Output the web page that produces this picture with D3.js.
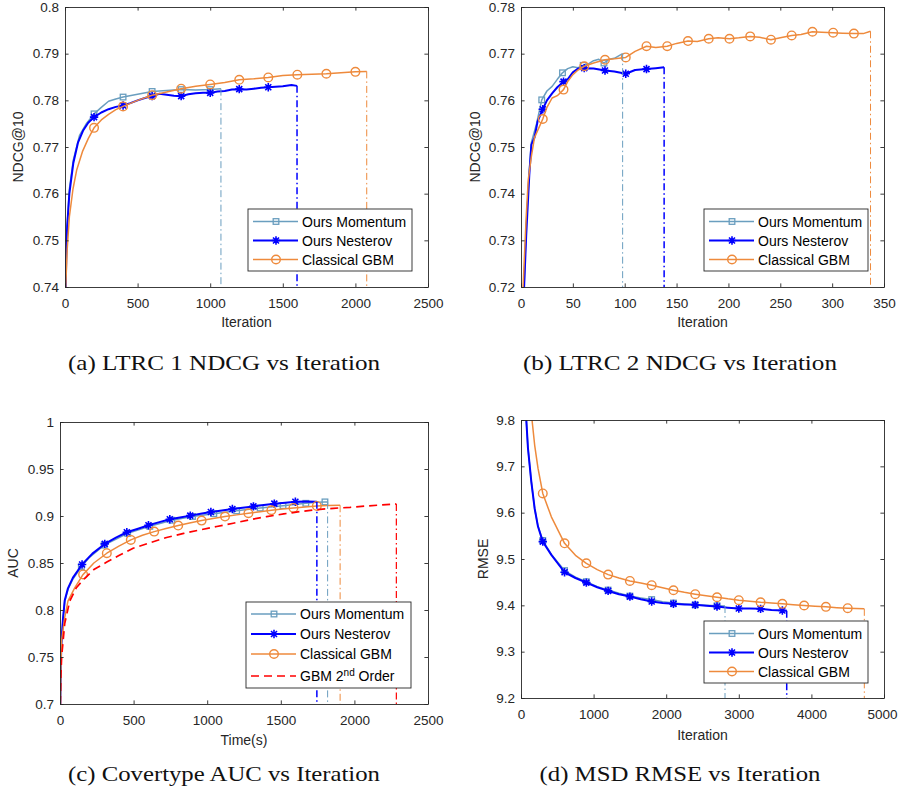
<!DOCTYPE html>
<html>
<head>
<meta charset="utf-8">
<script src="https://cdn.jsdelivr.net/npm/d3@7"></script>
<style>
  body { margin: 0; background: #fff; }
  svg { display: block; }
</style>
</head>
<body>
<div id="chart"></div>
<script>
// ── (a) LTRC 1 : NDCG@10 vs iteration ─────────────────────────────────────
const aMomentum = [[5,0.740],[10,0.748],[15,0.753],[30,0.761],[57,0.7672],[100,0.7725],[149,0.7751],[200,0.7771],[250,0.7785],[300,0.7798],[350,0.7803],[400,0.7807],[500,0.7813],[600,0.7819],[700,0.7821],[800,0.7823],[900,0.7822],[1000,0.7823],[1074,0.7825]];
const aNesterov = [[5,0.740],[10,0.749],[15,0.753],[30,0.760],[57,0.7665],[90,0.771],[126,0.7736],[160,0.7752],[200,0.7764],[250,0.7774],[300,0.7781],[350,0.7786],[400,0.7789],[450,0.7794],[500,0.7800],[550,0.7805],[600,0.7809],[650,0.7814],[700,0.7812],[750,0.7810],[800,0.7809],[850,0.7813],[900,0.7815],[950,0.7816],[1000,0.7816],[1050,0.7819],[1100,0.7820],[1150,0.7823],[1200,0.7824],[1250,0.7823],[1300,0.7825],[1350,0.7827],[1400,0.7828],[1450,0.7829],[1500,0.7830],[1560,0.7833],[1598,0.7831]];
const aClassical = [[5,0.740],[15,0.748],[30,0.755],[55,0.761],[80,0.765],[120,0.769],[160,0.7718],[200,0.7741],[250,0.7758],[300,0.7770],[350,0.7780],[400,0.7787],[500,0.7800],[600,0.7811],[700,0.7818],[800,0.7825],[900,0.7830],[1000,0.7834],[1100,0.7838],[1200,0.7844],[1300,0.7846],[1400,0.7849],[1500,0.7853],[1600,0.7855],[1700,0.7856],[1800,0.7857],[1900,0.7859],[2000,0.7861],[2078,0.7862]];
const aMomentumMarks = [200, 400, 600, 800, 1000];
const aNesterovMarks = [200, 400, 600, 800, 1000, 1200, 1400];
const aClassicalMarks = [200, 400, 600, 800, 1000, 1200, 1400, 1600, 1800, 2000];
const aXTicks = [0, 500, 1000, 1500, 2000, 2500];
const aYTicks = [0.74, 0.75, 0.76, 0.77, 0.78, 0.79, 0.8];

// ── (b) LTRC 2 : NDCG@10 vs iteration ─────────────────────────────────────
const bMomentum = [[3,0.72],[5,0.733],[8,0.745],[10,0.751],[15,0.755],[20,0.7601],[25,0.762],[30,0.763],[35,0.7645],[40,0.7659],[45,0.7668],[50,0.7672],[55,0.7670],[60,0.7675],[65,0.7678],[70,0.7685],[75,0.7688],[80,0.7680],[85,0.7688],[90,0.7690],[98,0.7700]];
const bNesterov = [[3,0.72],[5,0.731],[8,0.744],[10,0.7505],[13,0.752],[16,0.7555],[21,0.7581],[25,0.760],[30,0.7615],[35,0.7628],[41,0.7640],[45,0.7645],[50,0.7660],[55,0.7668],[61,0.7669],[70,0.7668],[81,0.7664],[90,0.7662],[101,0.7657],[110,0.7665],[121,0.7667],[130,0.7669],[138,0.7671]];
const bClassical = [[2,0.72],[5,0.735],[7,0.743],[10,0.748],[13,0.752],[16,0.7535],[21,0.756],[25,0.7585],[30,0.7605],[35,0.761],[41,0.7623],[45,0.764],[50,0.7655],[55,0.7665],[61,0.7673],[70,0.768],[81,0.7687],[90,0.7689],[101,0.7692],[110,0.7705],[121,0.7716],[130,0.7713],[141,0.7716],[150,0.7722],[161,0.7727],[170,0.7726],[181,0.7732],[190,0.7734],[201,0.7732],[210,0.7734],[221,0.7737],[230,0.7735],[241,0.7730],[250,0.7734],[261,0.7739],[270,0.7741],[281,0.7747],[290,0.7746],[301,0.7745],[310,0.7744],[321,0.7743],[330,0.7743],[337,0.7748]];
const bMomentumMarks = [20, 40, 60, 80];
const bNesterovMarks = [21, 41, 61, 81, 101, 121];
const bClassicalMarks = [21, 41, 61, 81, 101, 121, 141, 161, 181, 201, 221, 241, 261, 281, 301, 321];
const bXTicks = [0, 50, 100, 150, 200, 250, 300, 350];
const bYTicks = [0.72, 0.73, 0.74, 0.75, 0.76, 0.77, 0.78];

// ── (c) Covertype : AUC vs time ───────────────────────────────────────────
const cMomentum = [[2,0.70],[5,0.74],[10,0.765],[20,0.79],[32,0.809],[54,0.822],[88,0.833],[145,0.846],[200,0.856],[300,0.869],[460,0.8815],[610,0.889],[760,0.8955],[900,0.8995],[1045,0.9025],[1200,0.9055],[1360,0.9085],[1515,0.911],[1670,0.9135],[1745,0.9145],[1800,0.9150],[1818,0.9150]];
const cNesterov = [[2,0.70],[5,0.74],[10,0.765],[20,0.79],[32,0.81],[54,0.823],[88,0.8345],[150,0.8484],[220,0.860],[304,0.8703],[380,0.877],[454,0.8827],[530,0.8865],[601,0.8902],[675,0.8935],[746,0.8965],[815,0.8985],[885,0.9004],[955,0.9024],[1025,0.9042],[1100,0.9058],[1171,0.9074],[1240,0.9088],[1314,0.9102],[1385,0.9117],[1456,0.9131],[1530,0.9142],[1599,0.9152],[1670,0.9155],[1745,0.9152]];
const cClassical = [[3,0.70],[6,0.74],[11,0.768],[32,0.792],[54,0.8095],[100,0.8236],[157,0.8378],[230,0.850],[318,0.8604],[400,0.868],[481,0.8746],[560,0.8795],[640,0.8834],[720,0.8868],[803,0.8898],[880,0.8925],[962,0.8951],[1040,0.8974],[1121,0.8994],[1200,0.9012],[1280,0.9029],[1360,0.9046],[1436,0.9061],[1510,0.9074],[1586,0.9086],[1665,0.9097],[1745,0.9107],[1820,0.9111],[1903,0.9114]];
const cSecondOrder = [[2,0.70],[6,0.73],[11,0.750],[32,0.7855],[66,0.8095],[111,0.8237],[157,0.832],[230,0.843],[318,0.851],[400,0.858],[497,0.8657],[600,0.871],[724,0.8771],[840,0.8815],[951,0.8852],[1065,0.8888],[1177,0.8923],[1290,0.896],[1404,0.8994],[1520,0.9022],[1631,0.9047],[1745,0.9068],[1858,0.9082],[1970,0.9092],[2085,0.9107],[2190,0.9118],[2285,0.9128]];
const cMomentumMarks = [145, 300, 460, 610, 760, 900, 1045, 1200, 1360, 1515, 1670, 1800];
const cNesterovMarks = [150, 304, 454, 601, 746, 885, 1025, 1171, 1314, 1456, 1599];
const cClassicalMarks = [157, 318, 481, 640, 803, 962, 1121, 1280, 1436, 1586, 1745];
const cXTicks = [0, 500, 1000, 1500, 2000, 2500];
const cYTicks = [0.7, 0.75, 0.8, 0.85, 0.9, 0.95, 1];

// ── (d) MSD : RMSE vs iteration ───────────────────────────────────────────
const dMomentum = [[73,9.80],[96,9.739],[142,9.667],[188,9.609],[234,9.571],[300,9.540],[418,9.510],[600,9.475],[750,9.461],[900,9.451],[1050,9.440],[1200,9.433],[1350,9.426],[1500,9.420],[1650,9.416],[1800,9.4125],[1950,9.408],[2100,9.405],[2250,9.403],[2400,9.401],[2550,9.400],[2700,9.399],[2810,9.3985]];
const dNesterov = [[73,9.80],[96,9.739],[142,9.667],[188,9.609],[234,9.570],[300,9.5374],[418,9.509],[600,9.4714],[750,9.459],[900,9.449],[1050,9.439],[1200,9.4311],[1350,9.424],[1500,9.4189],[1650,9.413],[1800,9.4082],[1950,9.405],[2100,9.4032],[2250,9.402],[2400,9.401],[2550,9.399],[2700,9.3974],[2850,9.395],[3000,9.3931],[3150,9.393],[3300,9.3924],[3450,9.390],[3600,9.3888],[3660,9.3881]];
const dClassical = [[152,9.80],[188,9.746],[234,9.696],[300,9.6415],[418,9.591],[600,9.5338],[750,9.508],[900,9.4907],[1050,9.477],[1200,9.4663],[1350,9.459],[1500,9.4527],[1650,9.448],[1800,9.4434],[1950,9.438],[2100,9.4326],[2250,9.428],[2400,9.4240],[2550,9.4205],[2700,9.4175],[2850,9.414],[3000,9.4111],[3150,9.409],[3300,9.4067],[3450,9.405],[3600,9.4032],[3750,9.4015],[3900,9.3996],[4050,9.398],[4200,9.3967],[4350,9.395],[4500,9.3938],[4729,9.3924]];
const dMomentumMarks = [300, 600, 900, 1200, 1500, 1800, 2100, 2400, 2700];
const dNesterovMarks = [300, 600, 900, 1200, 1500, 1800, 2100, 2400, 2700, 3000, 3300, 3600];
const dClassicalMarks = [300, 600, 900, 1200, 1500, 1800, 2100, 2400, 2700, 3000, 3300, 3600, 3900, 4200, 4500];
const dXTicks = [0, 1000, 2000, 3000, 4000, 5000];
const dYTicks = [9.2, 9.3, 9.4, 9.5, 9.6, 9.7, 9.8];

// ── Estilos ───────────────────────────────────────────────────────────────
const width = 898;
const height = 791;
const AXIS = "#262626";
const SANS = "'Liberation Sans', Arial, Helvetica, sans-serif";
const SERIF = "'Liberation Serif', 'Times New Roman', serif";

const STYLE = {
  momentum:  { color: "#6a9ebf", width: 1.5, marker: "square", label: "Ours Momentum", vWidth: 1 },
  nesterov:  { color: "#0000ff", width: 2,   marker: "star",   label: "Ours Nesterov", vWidth: 1.5 },
  classical: { color: "#ee8a3c", width: 1.5, marker: "circle", label: "Classical GBM", vWidth: 1 },
  second:    { color: "#ff0000", width: 1.7, marker: null,     label: "GBM 2nd Order", vWidth: 1.2, dash: "8,5" }
};

const panels = [
  {
    box: { x0: 65, x1: 428, y0: 7, y1: 287 },
    xDomain: [0, 2500], yDomain: [0.74, 0.8], xTicks: aXTicks, yTicks: aYTicks,
    xLabel: "Iteration", xLabelY: 327, yLabel: "NDCG@10", yLabelX: 23,
    caption: "(a) LTRC 1 NDCG vs Iteration", capX: 224, capY: 370, capW: 312,
    legend: { x: 248, y: 209, w: 164, rows: [12.5, 31.5, 50.5], h: 62 },
    series: [
      { key: "momentum", data: aMomentum, marks: aMomentumMarks },
      { key: "nesterov", data: aNesterov, marks: aNesterovMarks },
      { key: "classical", data: aClassical, marks: aClassicalMarks }
    ]
  },
  {
    box: { x0: 521, x1: 884, y0: 7, y1: 287 },
    xDomain: [0, 350], yDomain: [0.72, 0.78], xTicks: bXTicks, yTicks: bYTicks,
    xLabel: "Iteration", xLabelY: 327, yLabel: "NDCG@10", yLabelX: 480,
    caption: "(b) LTRC 2 NDCG vs Iteration", capX: 680, capY: 370, capW: 314,
    legend: { x: 704, y: 209, w: 164, rows: [12.5, 31.5, 50.5], h: 62 },
    series: [
      { key: "momentum", data: bMomentum, marks: bMomentumMarks },
      { key: "nesterov", data: bNesterov, marks: bNesterovMarks },
      { key: "classical", data: bClassical, marks: bClassicalMarks }
    ]
  },
  {
    box: { x0: 60, x1: 428, y0: 422, y1: 704 },
    xDomain: [0, 2500], yDomain: [0.7, 1], xTicks: cXTicks, yTicks: cYTicks,
    xLabel: "Time(s)", xLabelY: 745, yLabel: "AUC", yLabelX: 18,
    caption: "(c) Covertype AUC vs Iteration", capX: 224, capY: 781, capW: 312,
    legend: { x: 246, y: 602, w: 165, rows: [12, 32, 52, 74], h: 86 },
    series: [
      { key: "momentum", data: cMomentum, marks: cMomentumMarks },
      { key: "nesterov", data: cNesterov, marks: cNesterovMarks },
      { key: "classical", data: cClassical, marks: cClassicalMarks },
      { key: "second", data: cSecondOrder, marks: [] }
    ]
  },
  {
    box: { x0: 521, x1: 884, y0: 420, y1: 698 },
    xDomain: [0, 5000], yDomain: [9.2, 9.8], xTicks: dXTicks, yTicks: dYTicks,
    xLabel: "Iteration", xLabelY: 740, yLabel: "RMSE", yLabelX: 488,
    caption: "(d) MSD RMSE vs Iteration", capX: 680, capY: 781, capW: 281,
    legend: { x: 704, y: 621, w: 164, rows: [12.5, 31.5, 50.5], h: 62 },
    series: [
      { key: "momentum", data: dMomentum, marks: dMomentumMarks },
      { key: "nesterov", data: dNesterov, marks: dNesterovMarks },
      { key: "classical", data: dClassical, marks: dClassicalMarks }
    ]
  }
];

const svg = d3.select("#chart")
  .append("svg")
  .attr("width", width)
  .attr("height", height)
  .attr("viewBox", [0, 0, width, height])
  .style("background", "#fff");

const fmt = d3.format(".2~f");

// ── Marcadores estilo MATLAB ──────────────────────────────────────────────
function drawMarker(g, type, color, cx, cy) {
  if (type === "square") {
    g.append("rect")
      .attr("x", cx - 2.8).attr("y", cy - 2.8)
      .attr("width", 5.6).attr("height", 5.6)
      .attr("fill", "none").attr("stroke", color).attr("stroke-width", 1.3);
  } else if (type === "star") {
    const r = 4.2, d = 3;
    g.append("path")
      .attr("d", `M${cx - r},${cy}H${cx + r}M${cx},${cy - r}V${cy + r}` +
                 `M${cx - d},${cy - d}L${cx + d},${cy + d}M${cx - d},${cy + d}L${cx + d},${cy - d}`)
      .attr("stroke", color).attr("stroke-width", 1.6).attr("fill", "none");
  } else if (type === "circle") {
    g.append("circle")
      .attr("cx", cx).attr("cy", cy).attr("r", 4.3)
      .attr("fill", "none").attr("stroke", color).attr("stroke-width", 1.4);
  }
}

panels.forEach((p, i) => {
  const { box } = p;
  const x = d3.scaleLinear().domain(p.xDomain).range([box.x0, box.x1]);
  const y = d3.scaleLinear().domain(p.yDomain).range([box.y1, box.y0]);
  const g = svg.append("g").attr("class", `panel-${i}`);

  const clipId = `clip-${i}`;
  g.append("clipPath").attr("id", clipId)
    .append("rect")
    .attr("x", box.x0).attr("y", box.y0)
    .attr("width", box.x1 - box.x0).attr("height", box.y1 - box.y0);

  const plot = g.append("g").attr("clip-path", `url(#${clipId})`);
  const line = d3.line().x(d => x(d[0])).y(d => y(d[1]));

  // ── Curvas ──────────────────────────────────────────────────────────────
  p.series.forEach(s => {
    const st = STYLE[s.key];
    plot.append("path")
      .datum(s.data)
      .attr("d", line)
      .attr("fill", "none")
      .attr("stroke", st.color)
      .attr("stroke-width", st.width)
      .attr("stroke-dasharray", st.dash || null)
      .attr("stroke-linejoin", "round");

    const mg = plot.append("g");
    s.data.filter(d => s.marks.includes(d[0]))
      .forEach(d => drawMarker(mg, st.marker, st.color, x(d[0]), y(d[1])));
  });

  // ── Líneas verticales de parada (dash-dot) ──────────────────────────────
  p.series.forEach(s => {
    const st = STYLE[s.key];
    const last = s.data[s.data.length - 1];
    plot.append("line")
      .attr("x1", x(last[0])).attr("x2", x(last[0]))
      .attr("y1", y(last[1])).attr("y2", box.y1)
      .attr("stroke", st.color)
      .attr("stroke-width", st.vWidth)
      .attr("stroke-dasharray", "7,3,1.5,3");
  });

  // ── Ejes (ticks hacia adentro, caja completa) ───────────────────────────
  const tick = -3.6;
  const axes = [
    g.append("g").attr("transform", `translate(0,${box.y1})`)
      .call(d3.axisBottom(x).tickValues(p.xTicks).tickSizeInner(tick).tickSizeOuter(0).tickPadding(11).tickFormat(fmt)),
    g.append("g").attr("transform", `translate(0,${box.y0})`)
      .call(d3.axisTop(x).tickValues(p.xTicks).tickSizeInner(tick).tickSizeOuter(0).tickFormat("")),
    g.append("g").attr("transform", `translate(${box.x0},0)`)
      .call(d3.axisLeft(y).tickValues(p.yTicks).tickSizeInner(tick).tickSizeOuter(0).tickPadding(6).tickFormat(fmt)),
    g.append("g").attr("transform", `translate(${box.x1},0)`)
      .call(d3.axisRight(y).tickValues(p.yTicks).tickSizeInner(tick).tickSizeOuter(0).tickFormat(""))
  ];
  axes.forEach(a => {
    a.attr("font-family", SANS).attr("font-size", 13.5);
    a.select(".domain").attr("stroke", AXIS).attr("stroke-width", 0.9);
    a.selectAll(".tick line").attr("stroke", AXIS).attr("stroke-width", 0.9);
    a.selectAll(".tick text").attr("fill", AXIS);
  });

  // la última etiqueta del eje x no debe salirse del lienzo
  axes[0].selectAll(".tick text").each(function () {
    const bb = this.getBBox();
    const tx = x(d3.select(this.parentNode).datum());
    const overflow = tx + bb.x + bb.width - (width - 1);
    if (overflow > 0) d3.select(this).attr("dx", -overflow);
  });

  // ── Etiquetas de ejes ───────────────────────────────────────────────────
  g.append("text")
    .attr("x", (box.x0 + box.x1) / 2).attr("y", p.xLabelY)
    .attr("text-anchor", "middle")
    .attr("font-family", SANS).attr("font-size", 14).attr("fill", AXIS)
    .text(p.xLabel);

  g.append("text")
    .attr("transform", `translate(${p.yLabelX},${(box.y0 + box.y1) / 2}) rotate(-90)`)
    .attr("text-anchor", "middle")
    .attr("font-family", SANS).attr("font-size", 14).attr("fill", AXIS)
    .text(p.yLabel);

  // ── Leyenda ─────────────────────────────────────────────────────────────
  const lg = g.append("g").attr("transform", `translate(${p.legend.x},${p.legend.y})`);
  lg.append("rect")
    .attr("width", p.legend.w).attr("height", p.legend.h)
    .attr("fill", "#fff").attr("stroke", AXIS).attr("stroke-width", 0.9);

  p.series.forEach((s, j) => {
    const st = STYLE[s.key];
    const cy = p.legend.rows[j];
    lg.append("line")
      .attr("x1", 5).attr("x2", 50).attr("y1", cy).attr("y2", cy)
      .attr("stroke", st.color).attr("stroke-width", st.width)
      .attr("stroke-dasharray", st.dash || null);
    if (st.marker) drawMarker(lg, st.marker, st.color, 28, cy);

    const t = lg.append("text")
      .attr("x", 54).attr("y", cy).attr("dy", "0.36em")
      .attr("font-family", SANS).attr("font-size", 14).attr("fill", "#000");
    if (s.key === "second") {
      t.append("tspan").text("GBM 2");
      t.append("tspan").attr("font-size", 10).attr("baseline-shift", "super").text("nd");
      t.append("tspan").text(" Order");
    } else {
      t.text(st.label);
    }
  });

  // ── Leyenda de la subfigura ─────────────────────────────────────────────
  g.append("text")
    .attr("x", p.capX).attr("y", p.capY)
    .attr("text-anchor", "middle")
    .attr("font-family", SERIF).attr("font-size", 21.5).attr("fill", "#111")
    .attr("textLength", p.capW).attr("lengthAdjust", "spacingAndGlyphs")
    .text(p.caption);
});
</script>
</body>
</html>
